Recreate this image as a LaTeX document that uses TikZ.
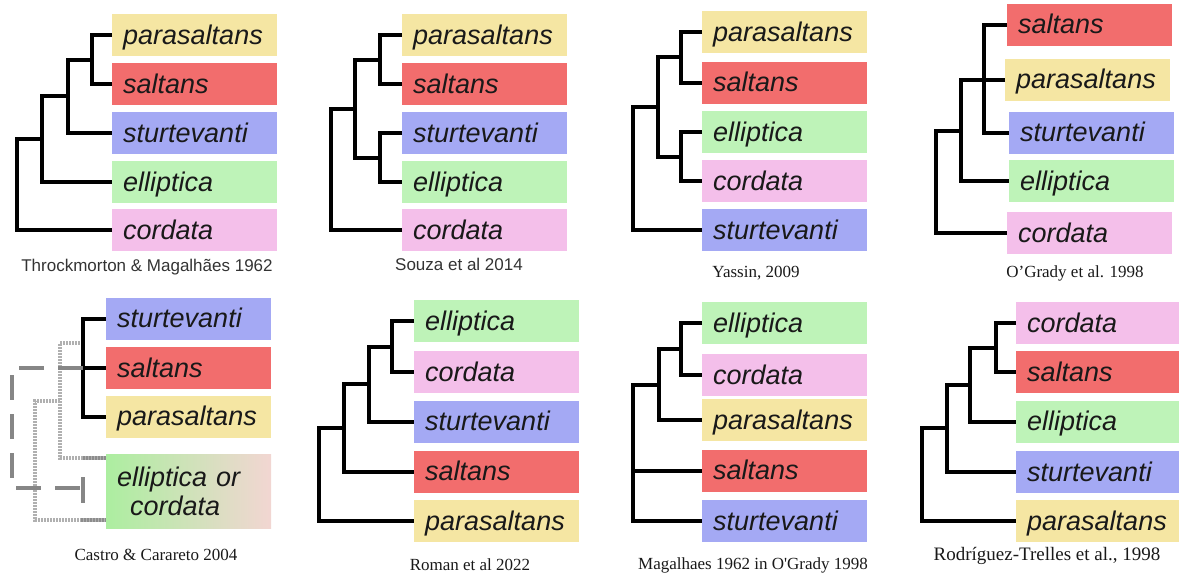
\documentclass[tikz,border=0pt]{standalone}
\usepackage{fontspec}
\setmainfont{Liberation Serif}
\setsansfont{Liberation Sans}
\usepackage{tikz}
\usetikzlibrary{calc}

\definecolor{cpar}{RGB}{245,230,163}
\definecolor{csal}{RGB}{242,109,109}
\definecolor{cstu}{RGB}{164,169,244}
\definecolor{cell}{RGB}{190,243,184}
\definecolor{ccor}{RGB}{244,191,234}

\tikzstyle{taxbase} = [anchor=west, inner xsep=11pt, inner ysep=0pt, text width=143pt, align=left,
  font=\sffamily\itshape\fontsize{27}{29}\selectfont, text=black!90]
\tikzstyle{taxon} = [taxbase, minimum height=42pt, text height=20pt, text depth=2pt]
\tikzstyle{branch} = [line width=4pt, black]
\tikzstyle{altdash} = [line width=4pt, gray!95, dash pattern=on 25pt off 14pt]
\tikzstyle{altdot} = [line width=3.5pt, gray!62, dash pattern=on 1.6pt off 1.4pt]
\tikzstyle{capsans} = [anchor=base, font=\sffamily\fontsize{17}{20}\selectfont, text=black!80]
\tikzstyle{capserif} = [anchor=base, font=\fontsize{17}{20}\selectfont, text=black!90]

\begin{document}
\begin{tikzpicture}[x=1pt,y=-1pt]
\useasboundingbox (0,0) rectangle (1179,573);

% Throckmorton & Magalhaes 1962
\begin{scope}
\foreach \i/\txt/\col/\y in {1/parasaltans/cpar/35, 2/saltans/csal/84, 3/sturtevanti/cstu/133, 4/elliptica/cell/182, 5/cordata/ccor/230}
  \node[taxon, fill=\col] (A\i) at (112,\y) {\txt};
\coordinate (A12) at (92,59.5);
\coordinate (A123) at (68,96);
\coordinate (A1234) at (42,139);
\coordinate (A0) at (17,184.5);
% Draw the tree
\draw[branch] (A1.west) -| (A12) |- (A2.west);
\draw[branch] (A12) -| (A123) |- (A3.west);
\draw[branch] (A123) -| (A1234) |- (A4.west);
\draw[branch] (A1234) -| (A0) |- (A5.west);
\node[capsans] (capA) at (147,271) {Throckmorton \& Magalhães 1962};
\end{scope}

% Souza et al 2014
\begin{scope}
\foreach \i/\txt/\col/\y in {1/parasaltans/cpar/35, 2/saltans/csal/84, 3/sturtevanti/cstu/133, 4/elliptica/cell/182, 5/cordata/ccor/230}
  \node[taxon, fill=\col] (B\i) at (402,\y) {\txt};
\coordinate (B12) at (380,59.5);
\coordinate (B34) at (380,157.5);
\coordinate (B1234) at (355,108.5);
\coordinate (B0) at (331,169);
% Draw the tree
\draw[branch] (B1.west) -| (B12) |- (B2.west);
\draw[branch] (B3.west) -| (B34) |- (B4.west);
\draw[branch] (B12) -| (B1234) |- (B34);
\draw[branch] (B1234) -| (B0) |- (B5.west);
\node[capsans] (capB) at (459,270) {Souza et al 2014};
\end{scope}

% Yassin 2009
\begin{scope}
\foreach \i/\txt/\col/\y in {1/parasaltans/cpar/32, 2/saltans/csal/82.5, 3/elliptica/cell/132, 4/cordata/ccor/181, 5/sturtevanti/cstu/230}
  \node[taxon, fill=\col] (C\i) at (702,\y) {\txt};
\coordinate (C12) at (681,57);
\coordinate (C34) at (681,156.5);
\coordinate (C1234) at (658,107);
\coordinate (C0) at (633,168.5);
% Draw the tree
\draw[branch] (C1.west) -| (C12) |- (C2.west);
\draw[branch] (C3.west) -| (C34) |- (C4.west);
\draw[branch] (C12) -| (C1234) |- (C34);
\draw[branch] (C1234) -| (C0) |- (C5.west);
\node[capserif] (capC) at (756,277) {Yassin, 2009};
\end{scope}

% O'Grady et al 1998
\begin{scope}
\foreach \i/\txt/\col/\x/\y in {1/saltans/csal/1007/24.5, 2/parasaltans/cpar/1005/79.5, 3/sturtevanti/cstu/1009/132.5, 4/elliptica/cell/1009/181, 5/cordata/ccor/1007/233}
  \node[taxon, fill=\col] (D\i) at (\x,\y) {\txt};
\coordinate (D123) at (984,79.5);
\coordinate (D1234) at (961,130.5);
\coordinate (D0) at (936,181.75);
% Draw the tree
\draw[branch] (D1.west) -| (D123) |- (D3.west);
\draw[branch] (D2.west) -| (D1234) |- (D4.west);
\draw[branch] (D1234) -| (D0) |- (D5.west);
\node[capserif] (capD) at (1075,277) {O’Grady et al. 1998};
\end{scope}

% Castro & Carareto 2004
\begin{scope}
\foreach \i/\txt/\col/\y in {1/sturtevanti/cstu/318.5, 2/saltans/csal/368, 3/parasaltans/cpar/416.5}
  \node[taxon, fill=\col] (E\i) at (106,\y) {\txt};
\node[taxbase, minimum height=74pt, left color={rgb,255:red,172;green,238;blue,160},
  right color={rgb,255:red,242;green,214;blue,210}] (E4) at (106,491)
  {elliptica or\\\hspace*{13pt}cordata};
\coordinate (E123) at (83,368);
\coordinate (E0) at (12,428);
\coordinate (E45) at (83,488);
\coordinate (E45t) at (83,477);
\coordinate (E45b) at (83,503);
\coordinate (E123d) at (83,343);
\coordinate (E1234d) at (60,401);
\coordinate (E0d) at (35,460);
\coordinate (E4a) at (106,458);
\coordinate (E4b) at (106,520);
% dotted alternative
\draw[altdot] (E123d) -| (E1234d) |- (E4a);
\draw[altdot] (E1234d) -| (E0d) |- (E4b);
\draw[altdot, gray!90] ($(E4a)+(-23,0)$) -- (E4a);
\draw[altdot, gray!90] ($(E4b)+(-25,0)$) -- (E4b);
% Draw the tree
\draw[branch] (E1.west) -| (E123) |- (E3.west);
\draw[branch] (E2.west) -- (E123);
% dashed alternative
\draw[altdash] (E123) -| (E0) |- (E45);
\draw[line width=4pt, gray!95] (E45t) -- (E45b);
\node[capserif] (capE) at (156,560) {Castro \& Carareto 2004};
\end{scope}

% Roman et al 2022
\begin{scope}
\foreach \i/\txt/\col/\y in {1/elliptica/cell/321, 2/cordata/ccor/372, 3/sturtevanti/cstu/421.5, 4/saltans/csal/471.5, 5/parasaltans/cpar/521}
  \node[taxon, fill=\col] (F\i) at (414,\y) {\txt};
\coordinate (F12) at (392,346.5);
\coordinate (F123) at (369,384);
\coordinate (F1234) at (344,428);
\coordinate (F0) at (319,474.5);
% Draw the tree
\draw[branch] (F1.west) -| (F12) |- (F2.west);
\draw[branch] (F12) -| (F123) |- (F3.west);
\draw[branch] (F123) -| (F1234) |- (F4.west);
\draw[branch] (F1234) -| (F0) |- (F5.west);
\node[capserif] (capF) at (470,570) {Roman et al 2022};
\end{scope}

% Magalhaes 1962 in O'Grady 1998
\begin{scope}
\foreach \i/\txt/\col/\y in {1/elliptica/cell/323, 2/cordata/ccor/375, 3/parasaltans/cpar/420, 4/saltans/csal/470.5, 5/sturtevanti/cstu/521}
  \node[taxon, fill=\col] (G\i) at (702,\y) {\txt};
\coordinate (G12) at (681,349);
\coordinate (G123) at (659,384.5);
\coordinate (G0) at (633,452.75);
% Draw the tree
\draw[branch] (G1.west) -| (G12) |- (G2.west);
\draw[branch] (G12) -| (G123) |- (G3.west);
\draw[branch] (G123) -| (G0) |- (G5.west);
\draw[branch] (G4.west) -- (G4.west -| G0);
\node[capserif] (capG) at (753,569) {Magalhaes 1962 in O\textquotesingle Grady 1998};
\end{scope}

% Rodriguez-Trelles et al 1998
\begin{scope}
\foreach \i/\txt/\col/\y in {1/cordata/ccor/323, 2/saltans/csal/372, 3/elliptica/cell/421.5, 4/sturtevanti/cstu/472, 5/parasaltans/cpar/521}
  \node[taxon, fill=\col, text width=141pt] (H\i) at (1016,\y) {\txt};
\coordinate (H12) at (996,347.5);
\coordinate (H123) at (970,384.5);
\coordinate (H1234) at (947,428);
\coordinate (H0) at (922,474.5);
% Draw the tree
\draw[branch] (H1.west) -| (H12) |- (H2.west);
\draw[branch] (H12) -| (H123) |- (H3.west);
\draw[branch] (H123) -| (H1234) |- (H4.west);
\draw[branch] (H1234) -| (H0) |- (H5.west);
\node[capserif, font=\fontsize{19}{22}\selectfont] (capH) at (1047,560) {Rodríguez-Trelles et al., 1998};
\end{scope}

\end{tikzpicture}
\end{document}
